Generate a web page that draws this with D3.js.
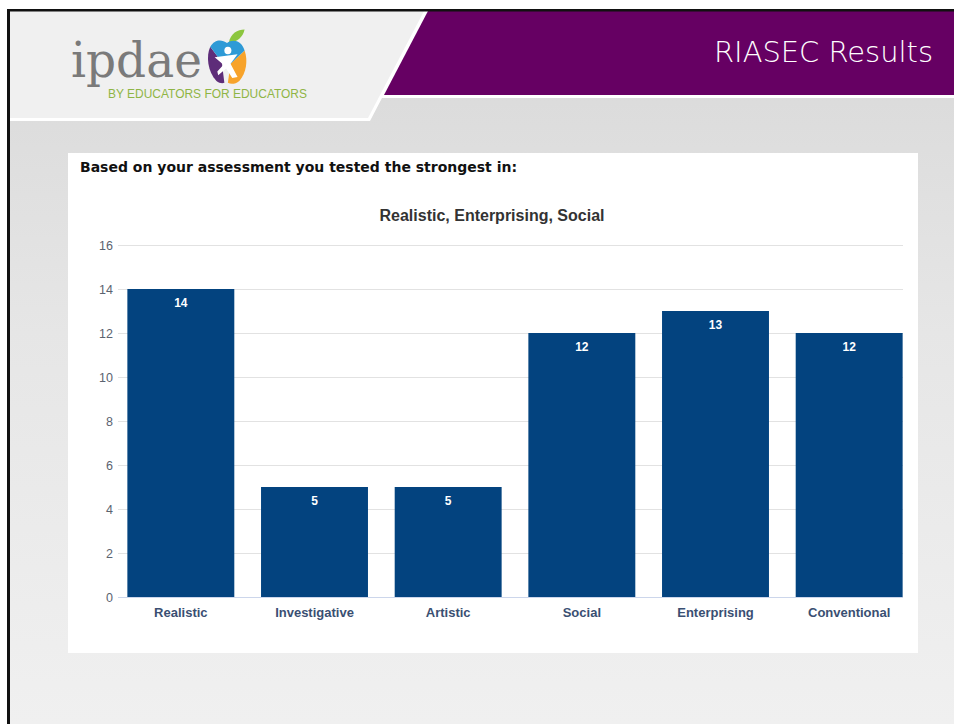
<!DOCTYPE html>
<html>
<head>
<meta charset="utf-8">
<script src="https://cdn.jsdelivr.net/npm/d3@7"></script>
<style>
  html, body { margin: 0; padding: 0; background: #fff; }
  svg { display: block; }
</style>
</head>
<body>
<svg id="slide"></svg>
<script>
// data
const categories = ["Realistic", "Investigative", "Artistic", "Social", "Enterprising", "Conventional"];
const scores = [14, 5, 5, 12, 13, 12];
const yTicks = [0, 2, 4, 6, 8, 10, 12, 14, 16];
const chartTitle = "Realistic, Enterprising, Social";
const heading = "Based on your assessment you tested the strongest in:";

const W = 954, H = 724;
const svg = d3.select("#slide").attr("width", W).attr("height", H).attr("viewBox", [0, 0, W, H]);

// background gradient of the slide body
const defs = svg.append("defs");
const grad = defs.append("linearGradient").attr("id", "bg").attr("x1", 0).attr("y1", 0).attr("x2", 0).attr("y2", 1);
grad.append("stop").attr("offset", "0%").attr("stop-color", "#d8d8d8");
grad.append("stop").attr("offset", "45%").attr("stop-color", "#e6e6e6");
grad.append("stop").attr("offset", "100%").attr("stop-color", "#f0f0f0");

svg.append("rect").attr("x", 10).attr("y", 11).attr("width", W - 10).attr("height", H - 11).attr("fill", "url(#bg)");

// header shapes
const line = d3.line();
svg.append("path").attr("fill", "#fff")
  .attr("d", line([[10, 11], [954, 11], [954, 98], [382, 98], [370, 121], [10, 121]]) + "Z");
svg.append("path").attr("fill", "#f0f0f0")
  .attr("d", line([[10, 11], [424, 11], [368, 118], [10, 118]]) + "Z");
svg.append("path").attr("fill", "#660063")
  .attr("d", line([[428, 11], [954, 11], [954, 95], [384, 95]]) + "Z");

// black frame lines
svg.append("rect").attr("x", 7).attr("y", 9).attr("width", W - 7).attr("height", 2.5).attr("fill", "#111");
svg.append("rect").attr("x", 7).attr("y", 9).attr("width", 3).attr("height", H - 9).attr("fill", "#111");

svg.append("text").attr("x", 933).attr("y", 62).attr("text-anchor", "end")
  .attr("fill", "#fff").attr("font-family", "'DejaVu Sans', sans-serif").attr("font-weight", 200)
  .attr("font-size", 29).attr("textLength", 219).attr("lengthAdjust", "spacingAndGlyphs").text("RIASEC Results");

// logo
const logo = svg.append("g");
logo.append("text").attr("x", 71).attr("y", 77).attr("fill", "#7a7a7a")
  .attr("font-family", "'DejaVu Serif', 'Liberation Serif', serif").attr("font-size", 48)
  .attr("textLength", 131).attr("lengthAdjust", "spacingAndGlyphs").text("ipdae");
logo.append("text").attr("x", 108).attr("y", 98).attr("fill", "#8fb545")
  .attr("font-family", "'Liberation Sans', Arial, sans-serif").attr("font-size", 12)
  .attr("textLength", 199).attr("lengthAdjust", "spacingAndGlyphs").text("BY EDUCATORS FOR EDUCATORS");
// apple icon
const apple = logo.append("g").attr("transform", "translate(227,60) scale(0.88,0.95)");
apple.append("path").attr("fill", "#8cc63f").attr("d", "M2,-18 C4,-28 12,-32 20,-32 C18,-24 12,-19 2,-18Z");
apple.append("path").attr("fill", "#5e2d79").attr("d", "M-19,-14 C-24,-4 -22,12 -12,22 C-9,24 -6,25 -3,24 L-6,2 Z");
apple.append("path").attr("fill", "#f7a32b").attr("d", "M20,-10 C24,0 22,14 14,22 C10,25 5,26 1,24 L4,4 Z");
apple.append("path").attr("fill", "#2e9ad6").attr("d", "M-19,-14 C-14,-22 -6,-22 0,-18 C6,-22 16,-22 20,-10 L4,4 L-6,2 Z");
apple.append("circle").attr("cx", 1).attr("cy", -10).attr("r", 4).attr("fill", "#fff");
apple.append("path").attr("fill", "#fff").attr("d", "M-14,-3 L12,-6 L4,4 L12,18 L6,19 L-1,9 L-10,16 L-11,12 L-4,5 Z");

// chart panel
const px = 68, py = 153, pw = 850, ph = 500;
svg.append("rect").attr("x", px).attr("y", py).attr("width", pw).attr("height", ph).attr("fill", "#fff");

svg.append("text").attr("x", 80).attr("y", 172).attr("fill", "#111")
  .attr("font-family", "'DejaVu Sans', Verdana, sans-serif").attr("font-weight", "bold")
  .attr("font-size", 13.5).attr("textLength", 437).attr("lengthAdjust", "spacingAndGlyphs").text(heading);

svg.append("text").attr("x", 492).attr("y", 221).attr("text-anchor", "middle").attr("fill", "#333")
  .attr("font-family", "'Liberation Sans', Arial, sans-serif").attr("font-weight", "bold")
  .attr("font-size", 16).text(chartTitle);

const x = d3.scaleBand().domain(categories).range([114, 916]).paddingInner(0.2).paddingOuter(0.1);
const y = d3.scaleLinear().domain([0, 16]).range([597, 245]);

// gridlines
const grid = svg.append("g").attr("transform", "translate(118,0)")
  .call(d3.axisLeft(y).tickValues(yTicks).tickSize(-785).tickFormat(""));
grid.select(".domain").remove();
grid.selectAll(".tick line").attr("stroke", d => d === 0 ? "#ccd6eb" : "#e2e2e2").attr("stroke-width", 1);

// y labels
const yAxis = svg.append("g").attr("transform", "translate(113,0)")
  .call(d3.axisLeft(y).tickValues(yTicks).tickSize(0).tickPadding(0));
yAxis.select(".domain").remove();
yAxis.selectAll("text").attr("fill", "#5b6370").attr("font-family", "'Liberation Sans', Arial, sans-serif")
  .attr("font-size", 12.5).attr("dy", "0.36em");

// bars
svg.append("g").selectAll("rect").data(scores).join("rect")
  .attr("x", (d, i) => x(categories[i]))
  .attr("y", d => y(d))
  .attr("width", x.bandwidth())
  .attr("height", d => y(0) - y(d))
  .attr("fill", "#03437f");

svg.append("g").selectAll("text").data(scores).join("text")
  .attr("x", (d, i) => x(categories[i]) + x.bandwidth() / 2)
  .attr("y", d => y(d) + 18)
  .attr("text-anchor", "middle").attr("fill", "#fff")
  .attr("font-family", "'Liberation Sans', Arial, sans-serif").attr("font-weight", "bold")
  .attr("font-size", 12).text(d => d);

// x labels
const xAxis = svg.append("g").attr("transform", "translate(0,597)")
  .call(d3.axisBottom(x).tickSize(0).tickPadding(11));
xAxis.select(".domain").remove();
xAxis.selectAll("text").attr("fill", "#3a4f72").attr("font-family", "'Liberation Sans', Arial, sans-serif")
  .attr("font-weight", "bold").attr("font-size", 13);
</script>
</body>
</html>
